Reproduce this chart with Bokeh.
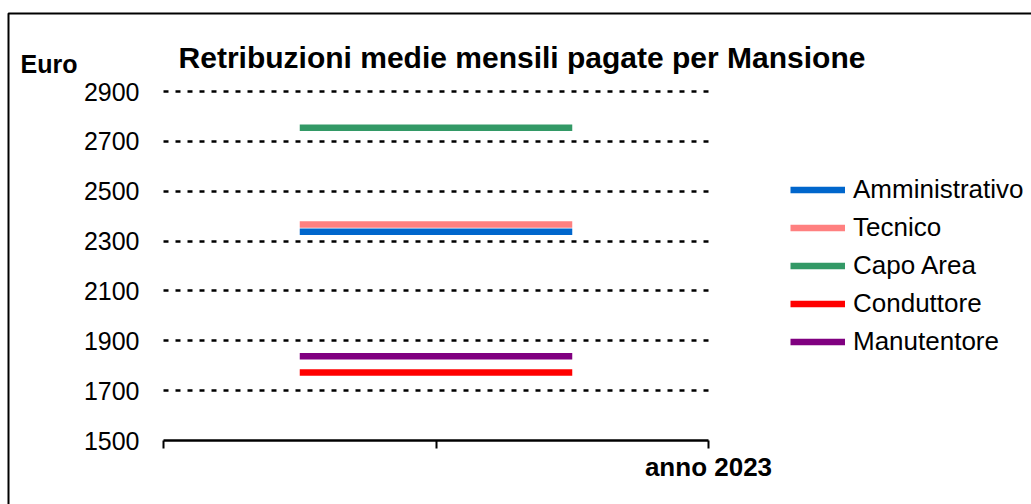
from bokeh.plotting import figure
from bokeh.models import Range1d, FixedTicker, Legend, LegendItem, BoxAnnotation, Label
from bokeh.embed import file_html
from bokeh.resources import INLINE

# ---- data ----
periodi = ["", ""]  # two category slots on the x axis
mansioni = ["Amministrativo", "Tecnico", "Capo Area", "Conduttore", "Manutentore"]
amministrativo = [2337, 2337]
tecnico = [2366, 2366]
capo_area = [2755, 2755]
conduttore = [1773, 1773]
manutentore = [1838, 1838]
colori = ["#0066CC", "#FF8080", "#339966", "#FF0000", "#800080"]
y_ticks = [1500, 1700, 1900, 2100, 2300, 2500, 2700, 2900]
x_label = "anno 2023"
y_label = "Euro"
titolo = "Retribuzioni medie mensili pagate per Mansione"

serie = [amministrativo, tecnico, capo_area, conduttore, manutentore]
FONT = "Liberation Sans"
W, H = 1031, 504

n = len(periodi)
x_centri = [i + 0.5 for i in range(n)]
y0, y1 = y_ticks[0], y_ticks[-1]

# layout: plotting area (x 0..n, y y0..y1) occupies canvas px 163..708 x 91..440
PX_L, PX_R, PX_T, PX_B = 163, 708, 91, 440
ux = n / (PX_R - PX_L)          # data units per px (x)
uy = (y1 - y0) / (PX_B - PX_T)  # data units per px (y)

def dx(px):
    return (px - PX_L) * ux

def dy(py):
    return y1 + (PX_T - py) * uy

p = figure(width=W, height=H,
           x_range=Range1d(dx(0), dx(W)), y_range=Range1d(dy(H), dy(0)),
           output_backend="svg", toolbar_location=None, min_border=0)
p.title.visible = False
p.outline_line_color = None
p.background_fill_color = "white"
p.border_fill_color = "white"

# x axis (fixed inside the frame)
xa = p.xaxis[0]
xa.fixed_location = y0
xa.bounds = (0, n)
xa.ticker = FixedTicker(ticks=list(range(n + 1)))
xa.major_label_overrides = {i: "" for i in range(n)} | {n: x_label}
xa.major_label_text_font = FONT
xa.major_label_text_font_size = "26px"
xa.major_label_text_font_style = "bold"
xa.major_label_text_color = "black"
xa.major_label_standoff = 3
xa.axis_line_color = "black"
xa.axis_line_width = 2.5
xa.major_tick_line_color = "black"
xa.major_tick_line_width = 2
xa.major_tick_out = 8
xa.major_tick_in = 0
xa.minor_tick_line_color = None
p.xgrid.visible = False

# y axis (fixed inside the frame)
ya = p.yaxis[0]
ya.fixed_location = 0
ya.bounds = (y0, y1)
ya.ticker = FixedTicker(ticks=y_ticks)
ya.major_label_text_font = FONT
ya.major_label_text_font_size = "25px"
ya.major_label_text_color = "black"
ya.axis_line_color = None
ya.major_tick_line_color = None
ya.minor_tick_line_color = None
ya.major_tick_out = 0
ya.major_tick_in = 0
ya.major_label_standoff = 24

p.ygrid.ticker = FixedTicker(ticks=y_ticks[1:])
p.ygrid.grid_line_color = "black"
p.ygrid.grid_line_width = 2.5
p.ygrid.grid_line_dash = "5 7"
p.ygrid.cross_bounds = (0, n)

items = []
for nome, vals, col in zip(mansioni, serie, colori):
    r = p.line(x_centri, vals, line_width=6.5, line_color=col)
    items.append(LegendItem(label=nome, renderers=[r]))

legend = Legend(items=items, location=(790, 147),
                glyph_width=55, glyph_height=25, label_height=25,
                label_standoff=8, spacing=7, padding=0, margin=0,
                label_text_font=FONT, label_text_font_size="26px",
                label_text_color="black",
                border_line_color=None, background_fill_alpha=0)
p.add_layout(legend, "center")

# title and unit label
p.add_layout(Label(x=dx(521.5), y=dy(56.5), text=titolo, text_font=FONT,
                   text_font_size="30px", text_font_style="bold",
                   text_color="black", text_align="center",
                   text_baseline="alphabetic"))
p.add_layout(Label(x=dx(20), y=dy(63.3), text=y_label, text_font=FONT,
                   text_font_size="25px", text_font_style="bold",
                   text_color="black", text_baseline="alphabetic"))

# chart border (only left/top visible in the crop)
p.add_layout(BoxAnnotation(left=dx(8), right=dx(W + 50), top=dy(13), bottom=dy(H + 50),
                           fill_alpha=0, line_color="black", line_alpha=1.0,
                           line_width=2))

open("out.html", "w").write(file_html(p, INLINE))
